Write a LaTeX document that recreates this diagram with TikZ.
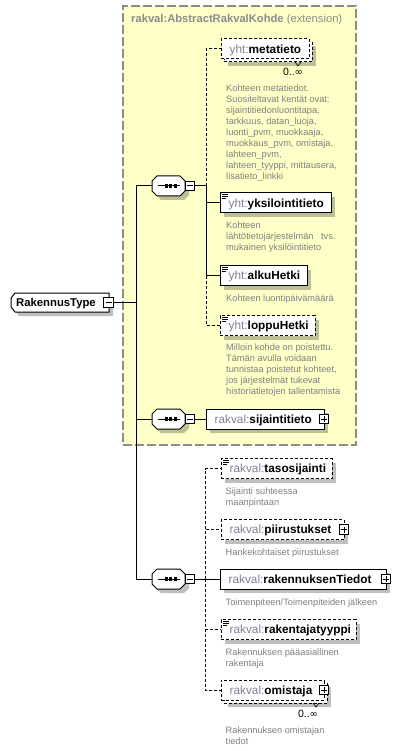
\documentclass[tikz,border=0pt]{standalone}
\usepackage{fontspec}
\setmainfont{Liberation Sans}
\newfontfamily\symfont{DejaVu Sans}
\usetikzlibrary{calc}
\definecolor{extfill}{RGB}{255,255,200}
\definecolor{extborder}{RGB}{140,140,140}
\definecolor{pfx}{RGB}{128,128,150}
\definecolor{desccol}{RGB}{128,128,128}
\tikzset{
  x=1pt, y=-1pt,
  shadowfill/.style={fill=black, fill opacity=0.25, draw=none},
  boxsolid/.style={draw=black, line width=1pt, fill=white, inner sep=0pt, outer sep=0pt},
  boxdashed/.style={boxsolid, dash pattern=on 3pt off 2pt},
  conn/.style={draw=black, line width=1pt},
  connopt/.style={conn, dash pattern=on 3pt off 2pt},
  desctext/.style={font=\fontsize{9.25}{11}\selectfont, text=desccol, inner sep=0pt, anchor=base west},
  nametext/.style={font=\fontsize{11.8}{14}\selectfont, inner sep=0pt, anchor=base west},
  pmbox/.style={draw=black, line width=1pt, fill=white, minimum size=9.5pt, inner sep=0pt, outer sep=0pt},
  cardtext/.style={font=\fontsize{10.5}{12}\selectfont, inner sep=0pt},
  iconline/.style={draw=black, line width=0.8pt},
  extbox/.style={draw=extborder, fill=extfill, line width=1.2pt, dash pattern=on 9pt off 3pt, inner sep=0pt, outer sep=0pt},
}
\newcommand{\infsym}{{\symfont\fontsize{10}{12}\selectfont ∞}}
\newcommand{\pmmark}[3]{%
  \node[pmbox] (#1) at (#2) {};
  \draw[line width=1pt] ([xshift=-3pt]#1.center) -- ([xshift=3pt]#1.center);
  \ifnum#3=1 \draw[line width=1pt] ([yshift=-3pt]#1.center) -- ([yshift=3pt]#1.center);\fi
}
\newcommand{\seqc}[3]{%
  \begin{scope}[shift={(#2,#3)}]
    \fill[shadowfill] (9,-6) -- (32,-6) -- (37,-1) -- (37,9) -- (32,14) -- (9,14) -- (4,9) -- (4,-1) -- cycle;
    \draw[line width=1pt, fill=white] (5,-10) -- (28,-10) -- (33,-5) -- (33,5) -- (28,10) -- (5,10) -- (0,5) -- (0,-5) -- cycle;
    \draw[line width=1pt] (5.5,0) -- (28,0);
    \fill (12.5,-1.7) rectangle ++(3.2,3.4);
    \fill (17,-1.7) rectangle ++(3.2,3.4);
    \fill (21.5,-1.7) rectangle ++(3.2,3.4);
  \end{scope}
  \node[minimum width=33pt, minimum height=20pt, inner sep=0pt, outer sep=0pt, anchor=west] (#1) at (#2,#3) {};
  \pmmark{#1m}{#2+38,#3}{0}
}
\newcommand{\elembox}[7]{%
  \fill[shadowfill] (#2+4,#3+4) rectangle (#4+4,#5+4);
  \node[#6, anchor=north west, minimum width=#4-#2, minimum height=#5-#3] (#1) at (#2,#3) {};
  \node[nametext] (#1t) at ([xshift=8.5pt,yshift=-4.2pt]#1.west) {#7};
}
\newcommand{\simpleicon}[1]{%
  \draw[iconline] ([xshift=1.5pt,yshift=-1.6pt]#1.north west) -- ++(6,0);
  \draw[iconline] ([xshift=1.5pt,yshift=-3.6pt]#1.north west) -- ++(6,0);
  \draw[iconline] ([xshift=1.5pt,yshift=-5.6pt]#1.north west) -- ++(4.5,0);
}
\newcommand{\desclines}[4]{%
  \foreach \l [count=\i] in {#4} {\node[desctext] (#1\i) at (#2,#3+11*\i-11) {\l};}
}
\begin{document}
\begin{tikzpicture}
\useasboundingbox (0,0) rectangle (414,751);
\fill[white] (0,0) rectangle (414,751);

% extension box
\node[extbox, anchor=north west, minimum width=233pt, minimum height=439pt] (ext) at (123,6) {};
\node[anchor=base west, inner sep=0pt, font=\fontsize{11.2}{13}\selectfont, text=extborder] (exttitle) at (131,23) {\textbf{rakval:AbstractRakvalKohde} (extension)};

% root type
\fill[shadowfill] (19,297) -- (113,297) -- (113,316) -- (19,316) -- (15,311) -- (15,302) -- cycle;
\draw[line width=1pt, fill=white] (15,293) -- (109,293) -- (109,312) -- (15,312) -- (11,307) -- (11,298) -- cycle;
\node[minimum width=98pt, minimum height=19pt, inner sep=0pt, outer sep=0pt, anchor=north west] (rt) at (11,293) {};
\node[anchor=base west, inner sep=0pt, font=\fontsize{11.3}{13}\selectfont] (rtt) at (16,306.5) {\textbf{RakennusType}};
\pmmark{rtm}{108.5,302.5}{0}

% compositors
\seqc{s1}{152}{186}
\seqc{s2}{152}{419}
\seqc{s3}{152}{579}

% metatieto (multiple)
\fill[shadowfill] (228,46) rectangle (316,66);
\draw[boxdashed] (224,42) rectangle (312,62);
\node[boxdashed, anchor=north west, minimum width=88pt, minimum height=20pt] (meta) at (221,39) {};
\node[nametext] (metat) at ([xshift=8.5pt,yshift=-4.2pt]meta.west) {\textcolor{pfx}{yht:}\textbf{metatieto}};
\draw[line width=0.6pt] (295,62) -- (298,66) -- (301,62);
\node[cardtext] (metacard) at (293,72) {0..\infsym};
\desclines{md}{226}{91.5}{{Kohteen metatiedot.},{Suositeltavat kentät ovat:},{sijaintitiedonluontitapa,},{tarkkuus, datan\_luoja,},{luonti\_pvm, muokkaaja,},{muokkaus\_pvm, omistaja,},{lahteen\_pvm,},{lahteen\_tyyppi, mittausera,},{lisatieto\_linkki}}

\elembox{yks}{220}{193}{331}{213}{boxsolid}{\textcolor{pfx}{yht:}\textbf{yksilointitieto}}
\simpleicon{yks}
\desclines{yd}{226}{228.5}{{Kohteen},{lähtötietojärjestelmän\hspace{5pt} tvs.},{mukainen yksilöintitieto}}

\elembox{alku}{220}{265.5}{307}{285.5}{boxsolid}{\textcolor{pfx}{yht:}\textbf{alkuHetki}}
\simpleicon{alku}
\desclines{ad}{226}{301}{{Kohteen luontipäivämäärä}}

\elembox{lopp}{220}{315.5}{315}{335.5}{boxdashed}{\textcolor{pfx}{yht:}\textbf{loppuHetki}}
\simpleicon{lopp}
\desclines{ld}{226}{350.5}{{Milloin kohde on poistettu.},{Tämän avulla voidaan},{tunnistaa poistetut kohteet,},{jos järjestelmät tukevat},{historiatietojen tallentamista}}

\elembox{sij}{206}{409}{324}{429}{boxsolid}{\textcolor{pfx}{rakval:}\textbf{sijaintitieto}}
\pmmark{sijp}{sij.east}{1}

\elembox{taso}{221}{458.5}{332}{478.5}{boxdashed}{\textcolor{pfx}{rakval:}\textbf{tasosijainti}}
\simpleicon{taso}
\desclines{td}{225.5}{494}{{Sijainti suhteessa},{maanpintaan}}

\elembox{piir}{221}{519.5}{344}{539.5}{boxdashed}{\textcolor{pfx}{rakval:}\textbf{piirustukset}}
\pmmark{piirp}{piir.east}{1}
\desclines{pd}{225.5}{555}{{Hankekohtaiset piirustukset}}

\elembox{rtied}{220}{569}{386}{589}{boxsolid}{\textcolor{pfx}{rakval:}\textbf{rakennuksenTiedot}}
\pmmark{rtiedp}{rtied.east}{1}
\desclines{rd}{225.5}{605}{{Toimenpiteen/Toimenpiteiden jälkeen}}

\elembox{rakt}{221}{619.5}{356}{639.5}{boxdashed}{\textcolor{pfx}{rakval:}\textbf{rakentajatyyppi}}
\simpleicon{rakt}
\desclines{kd}{225.5}{655}{{Rakennuksen pääasiallinen},{rakentaja}}

% omistaja (multiple)
\fill[shadowfill] (228,687) rectangle (331,707);
\draw[boxdashed] (224,683) rectangle (327,703);
\node[boxdashed, anchor=north west, minimum width=103pt, minimum height=20pt] (omis) at (221,680) {};
\node[nametext] (omist) at ([xshift=8.5pt,yshift=-4.2pt]omis.west) {\textcolor{pfx}{rakval:}\textbf{omistaja}};
\pmmark{omisp}{omis.east}{1}
\draw[line width=0.6pt] (313,703) -- (316,707) -- (319,703);
\node[cardtext] (omiscard) at (308,714) {0..\infsym};
\desclines{od}{225.5}{733.5}{{Rakennuksen omistajan},{tiedot}}

% connectors
\coordinate (jm) at (136,302.5);
\draw[conn] (rtm.east) -- (jm);
\draw[conn] (jm) |- (s1.west);
\draw[conn] (jm) |- (s2.west);
\draw[conn] (jm) |- (s3.west);

\coordinate (j1) at (206,186);
\draw[conn] (s1m.east) -- (j1);
\draw[connopt] (j1) |- (meta.west);
\draw[connopt] (j1) |- (lopp.west);
\draw[conn] (j1) |- (yks.west);
\draw[conn] (j1) |- (alku.west);

\draw[conn] (s2m.east) -- (sij.west);

\coordinate (j3) at (205,579);
\draw[conn] (s3m.east) -- (rtied.west);
\draw[connopt] (j3) |- (taso.west);
\draw[connopt] (j3) |- (piir.west);
\draw[connopt] (j3) |- (rakt.west);
\draw[connopt] (j3) |- (omis.west);
\end{tikzpicture}
\end{document}
